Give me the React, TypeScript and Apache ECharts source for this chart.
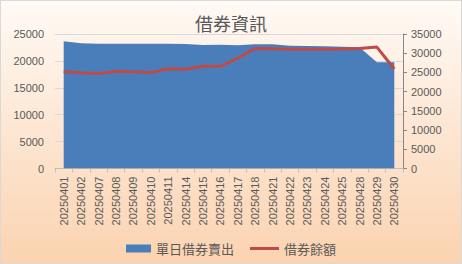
import React, { useEffect, useRef } from "react";
import * as echarts from "echarts";

const title = "借券資訊";
const dates = ["20250401","20250402","20250407","20250408","20250409","20250410","20250411","20250414","20250415","20250416","20250417","20250418","20250421","20250422","20250423","20250424","20250425","20250428","20250429","20250430"];
const dailySellName = "單日借券賣出";
const balanceName = "借券餘額";
const dailySell = [23650, 23300, 23200, 23200, 23200, 23200, 23200, 23150, 22950, 23000, 22900, 23100, 23100, 22800, 22750, 22700, 22650, 22550, 19750, 19750];
const balance = [25200, 24900, 24750, 25300, 25200, 24950, 25950, 25850, 26600, 26600, 28700, 31250, 31150, 31050, 31050, 31050, 31100, 31200, 31600, 25900];

const numFont = "'Liberation Sans', Arial, sans-serif";
const cjkFont = "'Noto Sans CJK TC', sans-serif";
const plain = (v: number) => String(v);

export default function App() {
  const ref = useRef<HTMLDivElement>(null);
  useEffect(() => {
    if (!ref.current) return;
    const chart = echarts.init(ref.current, undefined, { renderer: "svg" });
    const legendText = { fontFamily: cjkFont, fontSize: 13, color: "#595959" };
    chart.setOption({
      animation: false,
      backgroundColor: {
        type: "linear", x: 0, y: 0, x2: 0, y2: 1,
        colorStops: [
          { offset: 0, color: "#fffaf5" },
          { offset: 0.5, color: "#fde6d2" },
          { offset: 1, color: "#fbd3b0" },
        ],
      },
      title: {
        text: title,
        left: "center",
        top: 8,
        textStyle: { fontFamily: cjkFont, fontSize: 18, fontWeight: "normal", color: "#595959" },
      },
      legend: [
        {
          left: 120, top: 236,
          itemWidth: 25, itemHeight: 8,
          textStyle: legendText,
          data: [{ name: dailySellName, icon: "rect" }],
        },
        {
          left: 244, top: 236,
          itemWidth: 29, itemHeight: 3,
          textStyle: legendText,
          itemStyle: { color: "#be4b48" },
          data: [{ name: balanceName, icon: "rect" }],
        },
      ],
      grid: { left: 54, right: 58, top: 33, bottom: 94.5, containLabel: false },
      xAxis: {
        type: "category",
        data: dates,
        boundaryGap: true,
        axisLine: { lineStyle: { color: "#bfbfbf", width: 1 } },
        axisTick: { show: true, length: 4, lineStyle: { color: "#bfbfbf" } },
        axisLabel: {
          rotate: 90, interval: 0, margin: 8,
          fontFamily: numFont, fontSize: 11, color: "#595959",
        },
      },
      yAxis: [
        {
          type: "value", min: 0, max: 25000, interval: 5000,
          axisLine: { show: false }, axisTick: { show: false },
          splitLine: { lineStyle: { color: "#d9d9d9", width: 1 } },
          axisLabel: { fontFamily: numFont, fontSize: 11, color: "#595959", margin: 11, formatter: plain },
        },
        {
          type: "value", min: 0, max: 35000, interval: 5000, position: "right",
          axisLine: { show: true, lineStyle: { color: "#868686" } },
          axisTick: { show: true, length: 4, inside: false, lineStyle: { color: "#868686" } },
          splitLine: { show: false },
          axisLabel: { fontFamily: numFont, fontSize: 11, color: "#595959", margin: 8, formatter: plain },
        },
      ],
      series: [
        {
          name: dailySellName,
          type: "line",
          yAxisIndex: 0,
          data: dailySell,
          symbol: "none",
          lineStyle: { width: 0, color: "#4a7ebb" },
          itemStyle: { color: "#4a7ebb" },
          areaStyle: { color: "#4a7ebb", opacity: 1 },
        },
        {
          name: balanceName,
          type: "line",
          yAxisIndex: 1,
          data: balance,
          symbol: "none",
          lineStyle: { width: 3, color: "#be4b48" },
          itemStyle: { color: "#be4b48" },
        },
      ],
    });
    return () => chart.dispose();
  }, []);
  return (
    <div
      style={{ position: "fixed", left: 0, top: 0, width: 462, height: 264, boxSizing: "border-box", border: "1px solid #d9d9d9" }}
    >
      <div ref={ref} style={{ width: 460, height: 262 }} />
    </div>
  );
}
